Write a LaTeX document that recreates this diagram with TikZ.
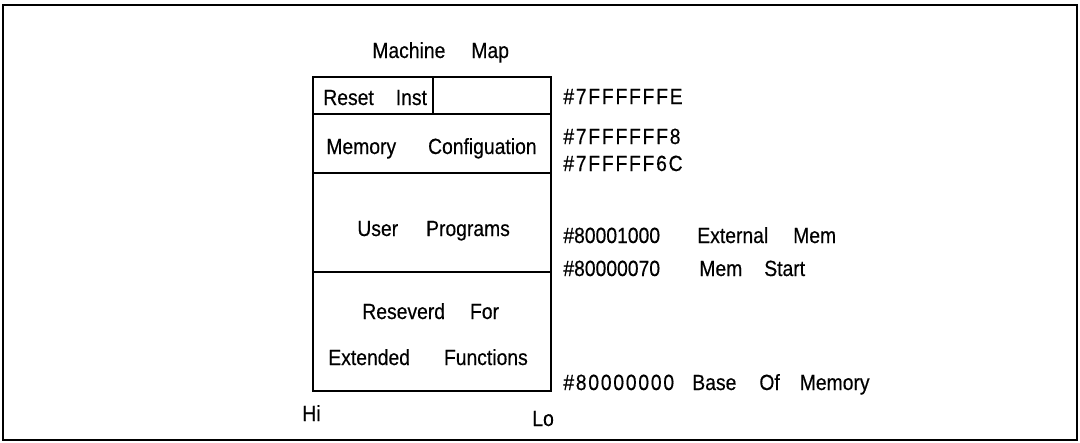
\documentclass[tikz,border=0pt]{standalone}
\usepackage{fontspec}
\setmainfont{Liberation Sans}[FakeStretch=0.88,FakeBold=0.4]
\newfontfamily\hexfont{Liberation Sans}[FakeStretch=0.88,FakeBold=0.4,LetterSpace=8]
\usetikzlibrary{positioning}
\newcommand{\wg}[1]{\hspace{#1}}

\begin{document}
\begin{tikzpicture}[x=0.02cm, y=-0.02cm,
      every node/.style={font=\fontsize{12.5}{15}\selectfont, inner sep=0pt},
      lbl/.style={anchor=base west},
      hex/.style={anchor=base west, font=\fontsize{12.5}{15}\hexfont},
      cell/.style={draw, line width=1.2pt}]

    \useasboundingbox (0,0) rectangle (1080,443);
    \draw[line width=0.9pt] (3,5) rectangle (1077,440);

    % memory map
    \draw[cell] (313,77) rectangle (551,391);
    \draw[cell] (313,114) -- (551,114);
    \draw[cell] (313,173) -- (551,173);
    \draw[cell] (313,272) -- (551,272);
    \draw[cell] (433,77) -- (433,114);

    \node[lbl] (title) at (372,58) {Machine\wg{0.52cm}Map};
    \node[lbl] (reset) at (323,105) {Reset\wg{0.44cm}Inst};
    \node[lbl] (config) at (326,154) {Memory\wg{0.64cm}Configuation};
    \node[lbl] (user) at (357,236) {User\wg{0.56cm}Programs};
    \node[lbl] (rsvd) at (362,319) {Reseverd\wg{0.5cm}For};
    \node[lbl] (extfn) at (328,365) {Extended\wg{0.68cm}Functions};
    \node[lbl] (hi) at (302,421) {Hi};
    \node[lbl] (lo) at (532,426) {Lo};

    % addresses
    \node[hex] (a7ffe) at (563,104) {\#7FFFFFFE};
    \node[hex] (a7ff8) at (563,144) {\#7FFFFFF8};
    \node[hex] (a7f6c) at (563,171) {\#7FFFFF6C};
    \node[lbl] (a1000) at (563,243) {\#80001000};
    \node[lbl] (a0070) at (563,276) {\#80000070};
    \node[hex] (a0000) at (563,390) {\#80000000};

    \node[lbl] (dext) at (697,243) {External\wg{0.5cm}Mem};
    \node[lbl] (dstart) at (699,276) {Mem\wg{0.44cm}Start};
    \node[lbl] (dbase) at (692,390) {Base\wg{0.46cm}Of\wg{0.4cm}Memory};
  \end{tikzpicture}
\end{document}
